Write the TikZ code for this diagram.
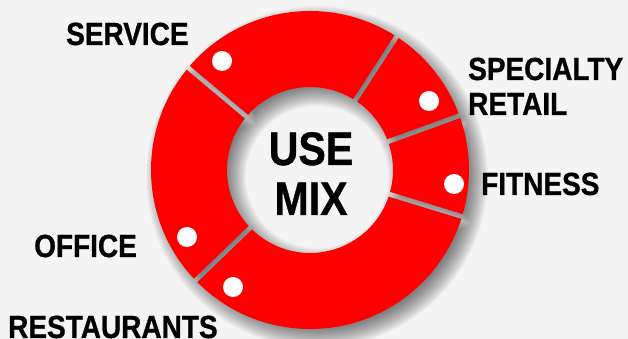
\documentclass[tikz,border=0pt]{standalone}
\usepackage{fontspec}
\newfontfamily\labfont{Liberation Sans}[FakeStretch=0.875, BoldFeatures={FakeBold=0.8}]
\definecolor{bg}{HTML}{F4F4F4}
\definecolor{ringred}{HTML}{FF0000}
% one annular segment from angle #1 to #2, expanded by #3 (gap half width 2.5)
\newcommand\ringpart[3]{%
  ({#1+(2.5-(#3))/(159+(#3))*57.2958}:{159+(#3)})
    arc[start angle={#1+(2.5-(#3))/(159+(#3))*57.2958}, end angle={#2-(2.5-(#3))/(159+(#3))*57.2958}, radius={159+(#3)}]
    -- ({#2-(2.5-(#3))/(83-(#3))*57.2958}:{83-(#3)})
    arc[start angle={#2-(2.5-(#3))/(83-(#3))*57.2958}, end angle={#1+(2.5-(#3))/(83-(#3))*57.2958}, radius={83-(#3)}] -- cycle}
\newcommand\ringset[1]{%
  \ringpart{20}{57}{#1} \ringpart{57}{140}{#1} \ringpart{140}{224}{#1}
  \ringpart{224}{343}{#1} \ringpart{-17}{20}{#1}}
\begin{document}
\begin{tikzpicture}[x=1pt,y=1pt,
  lab/.style={font=\labfont\bfseries\fontsize{32}{35}\selectfont, inner sep=0pt, anchor=base west},
  ttl/.style={font=\labfont\bfseries\fontsize{47}{50}\selectfont, inner sep=0pt, anchor=base},
  dot/.style={circle, fill=white, minimum size=20pt, inner sep=0pt},
  seg/.style={fill=ringred}]
\fill[bg] (0,0) rectangle (628,339);
\useasboundingbox (0,0) rectangle (628,339);
\coordinate (c) at (310,169);
% blurred drop shadow of the segmented ring
\begin{scope}[shift={(317,162)}]
\foreach \b in {-12,...,12} {
  \fill[black, opacity=0.028, nonzero rule] \ringset{\b};
}
\end{scope}
% ring segments
\begin{scope}[shift={(c)}]
  \fill[seg] \ringpart{20}{57}{0};
  \fill[seg] \ringpart{57}{140}{0};
  \fill[seg] \ringpart{140}{224}{0};
  \fill[seg] \ringpart{224}{343}{0};
  \fill[seg] \ringpart{-17}{20}{0};
\end{scope}
% centre title
\node[ttl] (use) at (311,174) {USE};
\node[ttl] (mix) at (311,124) {MIX};
% dots
\node[dot] (dservice) at (222,278) {};
\node[dot] (dspecial) at (429,238) {};
\node[dot] (dfitness) at (454,155) {};
\node[dot] (doffice) at (187,102) {};
\node[dot] (drest) at (233,52) {};
% labels
\node[lab] (service) at (66,294) {SERVICE};
\node[lab] (specialty) at (468,259) {SPECIALTY};
\node[lab] (retail) at (468,224) {RETAIL};
\node[lab] (fitness) at (481,144) {FITNESS};
\node[lab] (office) at (34,82) {OFFICE};
\node[lab] (rest) at (8,1) {RESTAURANTS};
\end{tikzpicture}
\end{document}
